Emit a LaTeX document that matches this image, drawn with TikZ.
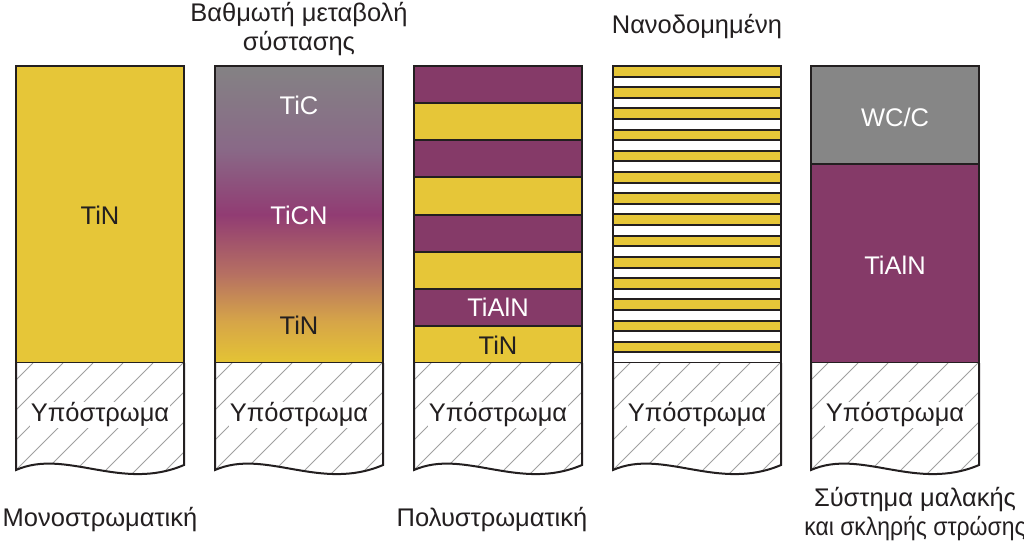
\documentclass[tikz,border=0pt]{standalone}
\usepackage{fontspec}
\setmainfont{Liberation Sans}
\definecolor{yel}{RGB}{230,198,56}
\definecolor{pur}{RGB}{133,58,104}
\definecolor{gry}{RGB}{134,134,134}
\definecolor{ink}{RGB}{35,31,32}
\definecolor{hatchc}{RGB}{160,160,160}
\definecolor{g0}{RGB}{228,196,52}
\definecolor{g1}{RGB}{214,165,72}
\definecolor{g2}{RGB}{182,112,98}
\definecolor{g3}{RGB}{145,60,115}
\definecolor{g4}{RGB}{137,105,135}
\definecolor{g5}{RGB}{132,130,132}
\pgfdeclareverticalshading{gradcol}{100bp}{color(0bp)=(g0); color(25bp)=(g0); color(32bp)=(g1); color(40bp)=(g2); color(50bp)=(g3); color(61bp)=(g4); color(75bp)=(g5); color(100bp)=(g5)}
\newcommand\mysub[2]{%
  \fill[white] (#1,363) -- (#1,470) .. controls ({#1+50},448) and ({#1+105},492) .. ({#1+168},465) -- ({#1+168},363) -- cycle;
  \begin{scope}
    \clip (#1,363) -- (#1,470) .. controls ({#1+50},448) and ({#1+105},492) .. ({#1+168},465) -- ({#1+168},363) -- cycle;
    \foreach \k in {0,...,9} {\draw[hatchline] ({#1+17+30*\k},363) -- ++(-125,125);}
  \end{scope}
  \draw[border] (#1,363) -- (#1,470) .. controls ({#1+50},448) and ({#1+105},492) .. ({#1+168},465) -- ({#1+168},363);
  \node[subtext] (#2) at ({#1+84},415) {Υπόστρωμα};
}
\tikzset{
  border/.style={draw=ink, line width=2pt, line join=miter},
  hatchline/.style={draw=hatchc, line width=0.8pt},
  lbl/.style={font=\fontsize{25.5}{29}\selectfont, inner sep=1pt},
  subtext/.style={lbl, fill=white, text=ink},
  darklbl/.style={lbl, text=ink},
  whitelbl/.style={lbl, text=white},
  caption/.style={lbl, text=ink, align=center},
}
\begin{document}
\begin{tikzpicture}[x=1pt,y=-1pt]
\useasboundingbox[fill=white] (0,0) rectangle (1024,548);
% column 1
\fill[yel] (16,66) rectangle (184,363);
\draw[border] (16,66) rectangle (184,363);
\mysub{16}{s1}
\node[darklbl] (c1) at (100,215) {TiN};
% column 2
\shade[shading=gradcol] (215,66) rectangle (383,363);
\draw[border] (215,66) rectangle (383,363);
\mysub{215}{s2}
\node[whitelbl] (c2a) at (299,105) {TiC};
\node[whitelbl] (c2b) at (299,215) {TiCN};
\node[darklbl] (c2c) at (299,325) {TiN};
% column 3
\foreach \i in {0,...,7} {
  \pgfmathsetmacro\ya{round(66+\i*37.125)}
  \pgfmathsetmacro\yb{round(66+(\i+1)*37.125)}
  \pgfmathparse{mod(\i,2)==0 ? "pur" : "yel"}
  \edef\cc{\pgfmathresult}
  \fill[\cc] (414,\ya) rectangle (582,\yb);
  \draw[border] (414,\ya) rectangle (582,\yb);
}
\mysub{414}{s3}
\node[whitelbl] (c3a) at (498,307) {TiAlN};
\node[darklbl] (c3b) at (498,345) {TiN};
% column 4
\foreach \i in {0,...,27} {
  \pgfmathsetmacro\ya{round(66+\i*10.6071)}
  \pgfmathsetmacro\yb{round(66+(\i+1)*10.6071)}
  \pgfmathparse{mod(\i,2)==0 ? "yel" : "white"}
  \edef\cc{\pgfmathresult}
  \fill[\cc] (613,\ya) rectangle (781,\yb);
  \draw[border] (613,\ya) rectangle (781,\yb);
}
\mysub{613}{s4}
% column 5
\fill[gry] (811,66) rectangle (979,164);
\fill[pur] (811,164) rectangle (979,363);
\draw[border] (811,66) rectangle (979,363);
\draw[border] (811,164) -- (979,164);
\mysub{811}{s5}
\node[whitelbl] (c5a) at (895,117) {WC/C};
\node[whitelbl] (c5b) at (895,265) {TiAlN};
% captions
\node[caption] (t2) at (299,29) {Βαθμωτή μεταβολή\\σύστασης};
\node[caption] (t4) at (697,27) {Νανοδομημένη};
\node[caption] (b1) at (100,520) {Μονοστρωματική};
\node[caption] (b3) at (492,520) {Πολυστρωματική};
\node[caption] (b5) at (915,514) {Σύστημα μαλακής\\\scalebox{0.9}[1]{και σκληρής στρώσης}};
\end{tikzpicture}
\end{document}
